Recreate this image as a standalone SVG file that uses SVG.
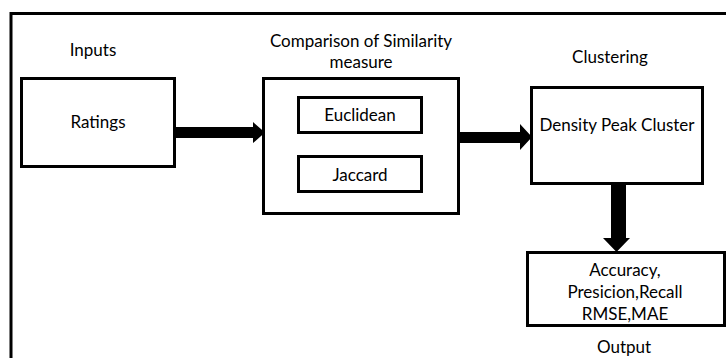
<svg xmlns="http://www.w3.org/2000/svg" width="726" height="358" viewBox="0 0 726 358">
<style>
.box{fill:#fff;stroke:#000;stroke-width:3}
.t{font-family:Lato,"Open Sans","Liberation Sans",sans-serif;font-size:17px;fill:#000;text-anchor:middle}
.arr{fill:#000}
</style>
<rect width="726" height="358" fill="#fff"/>
<path d="M11 360 V13.5 H728" fill="none" stroke="#000" stroke-width="3"/>
<g id="label-inputs"><text class="t" x="93" y="56">Inputs</text></g>
<g id="label-comparison"><text class="t" x="361" y="47">Comparison of Similarity</text><text class="t" x="361" y="68">measure</text></g>
<g id="label-clustering"><text class="t" x="610" y="63">Clustering</text></g>
<g id="ratings"><rect class="box" x="21.5" y="78.5" width="153" height="88"/><text class="t" x="98" y="128">Ratings</text></g>
<g id="comparison"><rect class="box" x="263.5" y="78.5" width="195" height="135"/></g>
<g id="euclidean"><rect class="box" x="298.5" y="97.5" width="123" height="35"/><text class="t" x="360" y="121">Euclidean</text></g>
<g id="jaccard"><rect class="box" x="298.5" y="156.5" width="123" height="35"/><text class="t" x="360" y="181">Jaccard</text></g>
<g id="density"><rect class="box" x="531.5" y="87.5" width="171" height="96"/><text class="t" x="617" y="131">Density Peak Cluster</text></g>
<g id="output"><rect class="box" x="527.5" y="252.5" width="197" height="73"/><text class="t" x="625" y="276">Accuracy,</text><text class="t" x="625" y="298">Presicion,Recall</text><text class="t" x="625" y="320">RMSE,MAE</text></g>
<g id="label-output"><text class="t" x="624" y="353">Output</text></g>
<g id="connectors">
<polygon class="arr" points="175,127 253,127 253,122 265,132.5 253,143 253,138 175,138"/>
<polygon class="arr" points="459,132 520,132 520,124 532,137 520,150 520,143 459,143"/>
<polygon class="arr" points="611,184 626,184 626,238 630,238 616.5,252 603,238 611,238"/>
</g>
</svg>
